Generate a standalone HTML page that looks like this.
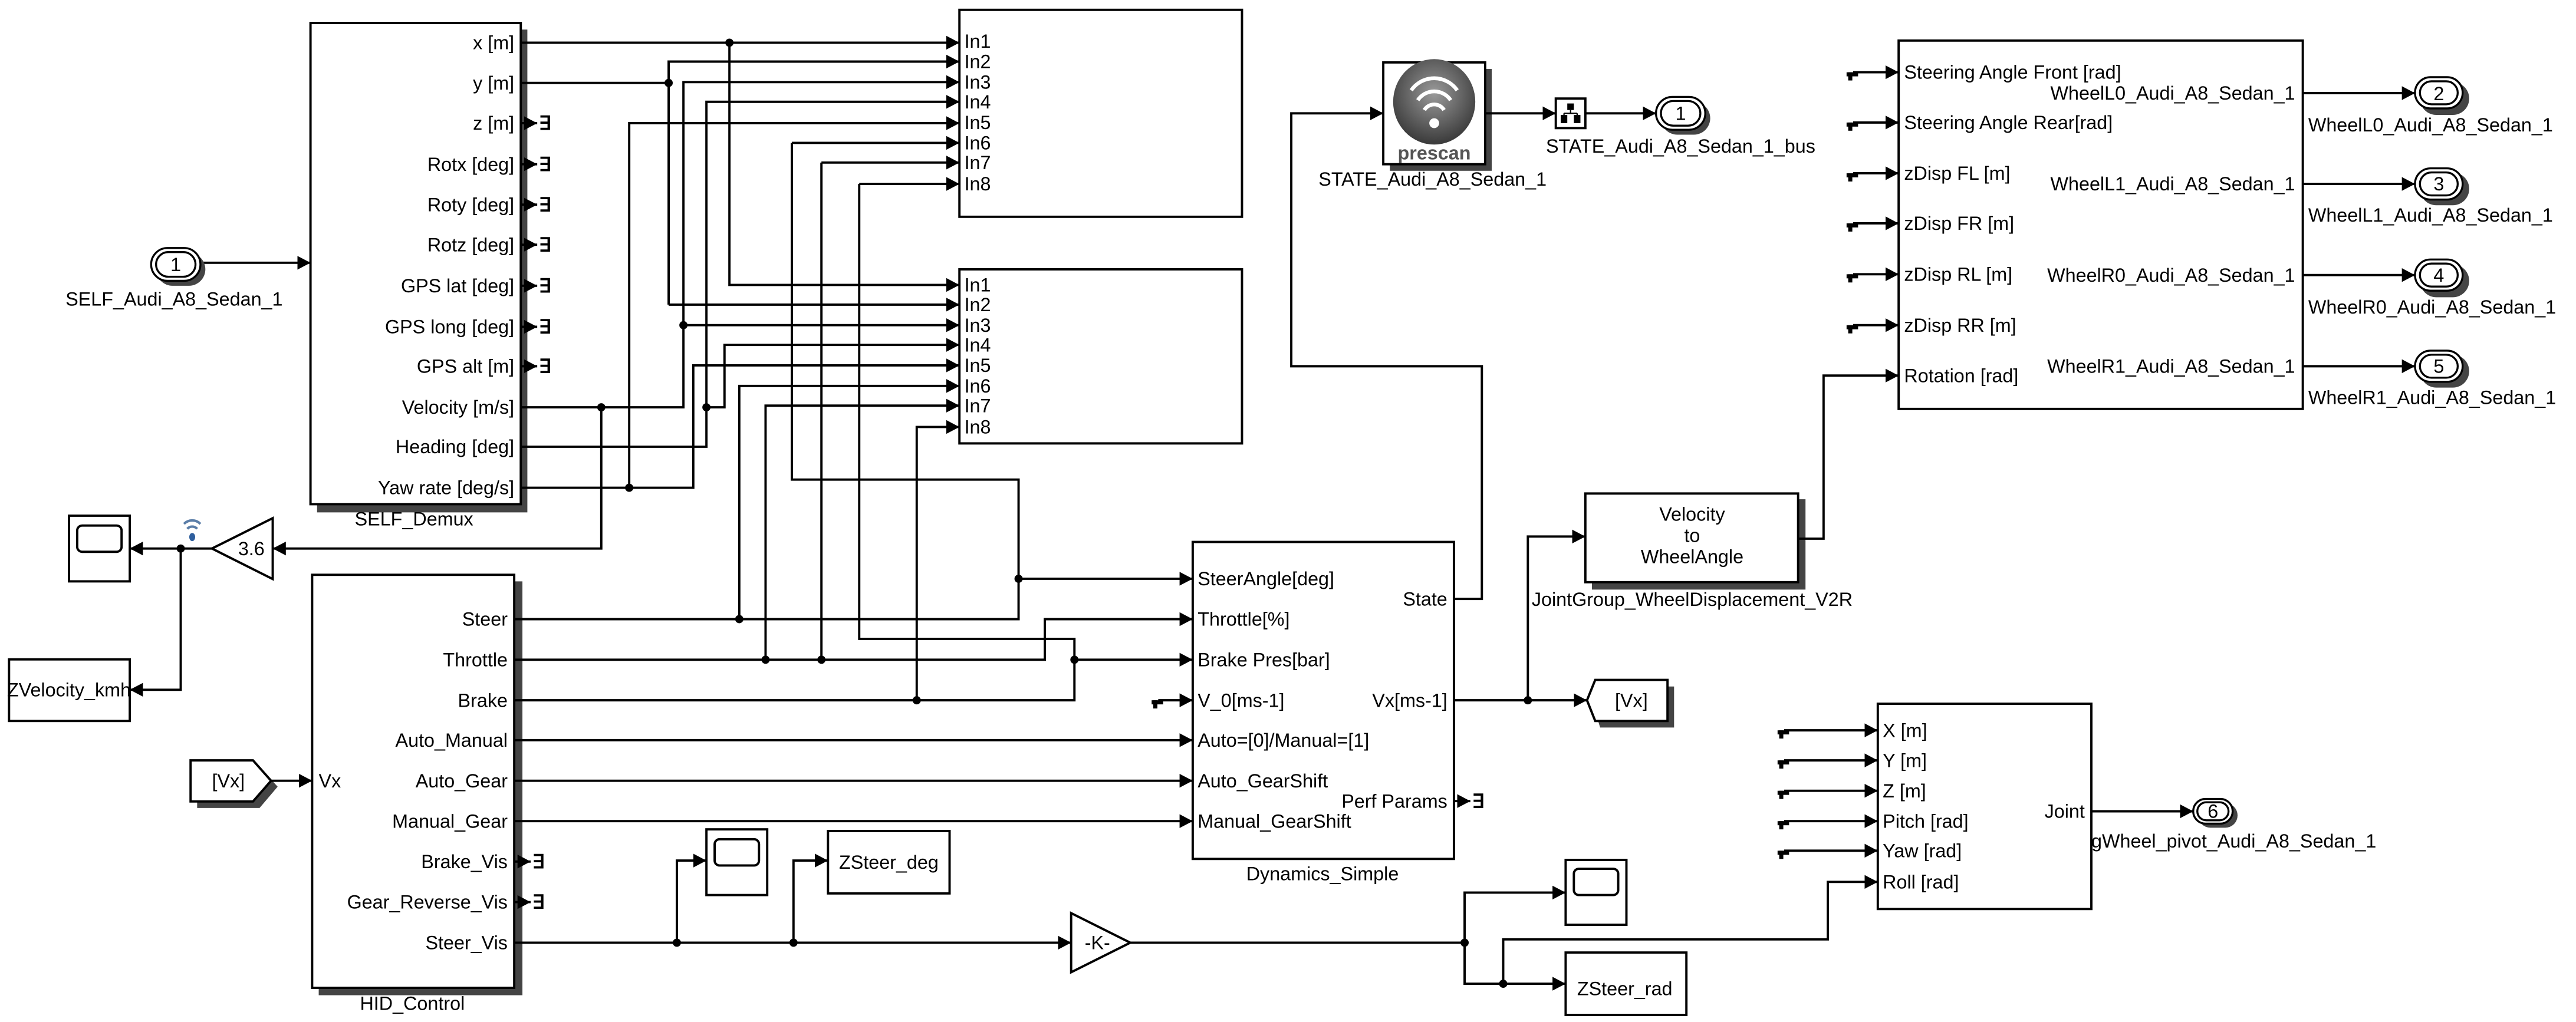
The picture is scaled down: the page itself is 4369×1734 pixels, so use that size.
<!DOCTYPE html>
<html><head><meta charset="utf-8"><style>
html,body{margin:0;padding:0;background:#fff;}
svg{display:block;}
text{font-family:"Liberation Sans",Arial,sans-serif;font-size:11.6px;fill:#000;}
</style></head><body>
<svg width="4369" height="1734" viewBox="0 0 1568 622.3" preserveAspectRatio="none" xmlns="http://www.w3.org/2000/svg">
<defs>
<marker id="a" markerUnits="userSpaceOnUse" markerWidth="9" markerHeight="10" refX="8" refY="5" orient="auto"><path d="M0,0.8 L8,5 L0,9.2 z" fill="#000"/></marker>
<radialGradient id="pg" cx="50%" cy="40%" r="60%"><stop offset="0" stop-color="#9a9a9a"/><stop offset="1" stop-color="#3a3a3a"/></radialGradient>
</defs>
<g fill="none" stroke="#000" stroke-width="1.4">
<rect x="193" y="18" width="128" height="294" fill="#444" stroke="none"/>
<rect x="194" y="354" width="124" height="252" fill="#444" stroke="none"/>
<rect x="846" y="42" width="62" height="62" fill="#444" stroke="none"/>
<rect x="969" y="304" width="130" height="55" fill="#444" stroke="none"/>
<rect x="189" y="14" width="128" height="293" fill="#fff"/>
<rect x="190" y="350" width="123" height="251.5" fill="#fff"/>
<rect x="584" y="6" width="172" height="126" fill="#fff"/>
<rect x="584" y="164" width="172" height="106" fill="#fff"/>
<rect x="726" y="330" width="159" height="193" fill="#fff"/>
<rect x="1155.7" y="24.7" width="246" height="224.3" fill="#fff"/>
<rect x="1143" y="428.5" width="130" height="125" fill="#fff"/>
<rect x="965" y="300.5" width="129.5" height="54" fill="#fff"/>
<rect x="842" y="38" width="62" height="62" fill="#fff"/>
<rect x="947" y="60" width="18" height="18" fill="#fff"/>
<rect x="42" y="314" width="37" height="40" fill="#fff"/>
<rect x="47" y="320" width="27" height="16" rx="3"/>
<rect x="430" y="505" width="37" height="40" fill="#fff"/>
<rect x="435" y="511" width="27" height="16" rx="3"/>
<rect x="953" y="523.6" width="37" height="39.5" fill="#fff"/>
<rect x="958" y="529" width="27" height="16" rx="3"/>
<rect x="5.5" y="401.5" width="73.5" height="37.5" fill="#fff"/>
<rect x="504" y="506" width="74" height="38" fill="#fff"/>
<rect x="953" y="580" width="73.5" height="38" fill="#fff"/>
<path d="M129 334 L166 315.5 L166 352.6 Z" fill="#fff"/>
<path d="M688 574 L652 556 L652 592 Z" fill="#fff"/>
<path d="M120 467 H158 L169 479 L158 492 H120 Z" fill="#444" stroke="none"/>
<path d="M116 463 H154 L165 475.4 L154 488 H116 Z" fill="#fff"/>
<path d="M974 418 H1019 V443 H974 L970 430 Z" fill="#444" stroke="none"/>
<path d="M971 414 H1015 V439 H971 L966 426.4 Z" fill="#fff"/>
<path d="M317 26 H584" marker-end="url(#a)"/>
<path d="M444 26 V173.5 H584" marker-end="url(#a)"/>
<path d="M317 50.5 H407"/>
<path d="M407 185.5 V37.5 H584" marker-end="url(#a)"/>
<path d="M407 185.5 H584" marker-end="url(#a)"/>
<path d="M317 248 H416 V50 H584" marker-end="url(#a)"/>
<path d="M416 198 H584" marker-end="url(#a)"/>
<path d="M366 248 V334 H166" marker-end="url(#a)"/>
<path d="M317 272 H430 V62 H584" marker-end="url(#a)"/>
<path d="M430 248 H441 V210 H584" marker-end="url(#a)"/>
<path d="M317 297 H422 V222.5 H584" marker-end="url(#a)"/>
<path d="M383 297 V75 H584" marker-end="url(#a)"/>
<path d="M482 87 H584" marker-end="url(#a)"/>
<path d="M482 87 V292 H620 V352.4"/>
<path d="M313 377 H620 V352.4 H726" marker-end="url(#a)"/>
<path d="M450 377 V235 H584" marker-end="url(#a)"/>
<path d="M500 99 H584" marker-end="url(#a)"/>
<path d="M500 99 V401.7"/>
<path d="M313 401.7 H636 V377 H726" marker-end="url(#a)"/>
<path d="M466 401.7 V247 H584" marker-end="url(#a)"/>
<path d="M523 112 H584" marker-end="url(#a)"/>
<path d="M523 112 V389 H654 V401.7"/>
<path d="M313 426.4 H654 V401.7 H726" marker-end="url(#a)"/>
<path d="M558 426.4 V260 H584" marker-end="url(#a)"/>
<path d="M313 450.7 H726" marker-end="url(#a)"/>
<path d="M313 475.4 H726" marker-end="url(#a)"/>
<path d="M313 500 H726" marker-end="url(#a)"/>
<path d="M313 574 H652" marker-end="url(#a)"/>
<path d="M412 574 V524 H430" marker-end="url(#a)"/>
<path d="M483 574 V524 H504" marker-end="url(#a)"/>
<path d="M688 574 H891.5"/>
<path d="M891.5 574 V543.5 H953" marker-end="url(#a)"/>
<path d="M891.5 574 V599 H953" marker-end="url(#a)"/>
<path d="M915 599 V572 H1112.6 V537 H1143" marker-end="url(#a)"/>
<path d="M885 426.4 H966" marker-end="url(#a)"/>
<path d="M930 426.4 V326.7 H965" marker-end="url(#a)"/>
<path d="M1094.5 328 H1110 V228.7 H1155.7" marker-end="url(#a)"/>
<path d="M885 364.7 H902 V223 H786 V69 H842" marker-end="url(#a)"/>
<path d="M904 69 H947" marker-end="url(#a)"/>
<path d="M965 69 H1008" marker-end="url(#a)"/>
<path d="M1401.7 56.7 H1470" marker-end="url(#a)"/>
<path d="M1401.7 112 H1470" marker-end="url(#a)"/>
<path d="M1401.7 167.5 H1470" marker-end="url(#a)"/>
<path d="M1401.7 223 H1470" marker-end="url(#a)"/>
<path d="M1273 494 H1335" marker-end="url(#a)"/>
<path d="M122 160 H189" marker-end="url(#a)"/>
<path d="M129 334 H79" marker-end="url(#a)"/>
<path d="M110 334 V420 H79" marker-end="url(#a)"/>
<path d="M165 475.4 H190" marker-end="url(#a)"/>
<path d="M1128 44 H1155.7" marker-end="url(#a)"/>
<path d="M1128 74.6 H1155.7" marker-end="url(#a)"/>
<path d="M1128 105.5 H1155.7" marker-end="url(#a)"/>
<path d="M1128 136 H1155.7" marker-end="url(#a)"/>
<path d="M1128 167 H1155.7" marker-end="url(#a)"/>
<path d="M1128 198 H1155.7" marker-end="url(#a)"/>
<path d="M1086 444.7 H1143" marker-end="url(#a)"/>
<path d="M1086 463 H1143" marker-end="url(#a)"/>
<path d="M1086 481.5 H1143" marker-end="url(#a)"/>
<path d="M1086 500 H1143" marker-end="url(#a)"/>
<path d="M1086 518 H1143" marker-end="url(#a)"/>
<path d="M705 426.4 H726" marker-end="url(#a)"/>
<path d="M317 75 H327" marker-end="url(#a)"/>
<path d="M317 100 H327" marker-end="url(#a)"/>
<path d="M317 124.6 H327" marker-end="url(#a)"/>
<path d="M317 149 H327" marker-end="url(#a)"/>
<path d="M317 174 H327" marker-end="url(#a)"/>
<path d="M317 199 H327" marker-end="url(#a)"/>
<path d="M317 223 H327" marker-end="url(#a)"/>
<path d="M313 524.6 H323" marker-end="url(#a)"/>
<path d="M313 549.3 H323" marker-end="url(#a)"/>
<path d="M885 487.8 H895" marker-end="url(#a)"/>
</g>
<g fill="#000">
<rect x="1124" y="44" width="7" height="2.5"/><rect x="1125" y="44" width="2.5" height="5"/>
<rect x="1124" y="74.6" width="7" height="2.5"/><rect x="1125" y="74.6" width="2.5" height="5"/>
<rect x="1124" y="105.5" width="7" height="2.5"/><rect x="1125" y="105.5" width="2.5" height="5"/>
<rect x="1124" y="136" width="7" height="2.5"/><rect x="1125" y="136" width="2.5" height="5"/>
<rect x="1124" y="167" width="7" height="2.5"/><rect x="1125" y="167" width="2.5" height="5"/>
<rect x="1124" y="198" width="7" height="2.5"/><rect x="1125" y="198" width="2.5" height="5"/>
<rect x="1082" y="444.7" width="7" height="2.5"/><rect x="1083" y="444.7" width="2.5" height="5"/>
<rect x="1082" y="463" width="7" height="2.5"/><rect x="1083" y="463" width="2.5" height="5"/>
<rect x="1082" y="481.5" width="7" height="2.5"/><rect x="1083" y="481.5" width="2.5" height="5"/>
<rect x="1082" y="500" width="7" height="2.5"/><rect x="1083" y="500" width="2.5" height="5"/>
<rect x="1082" y="518" width="7" height="2.5"/><rect x="1083" y="518" width="2.5" height="5"/>
<rect x="701" y="426.4" width="7" height="2.5"/><rect x="702" y="426.4" width="2.5" height="5"/>
<circle cx="444" cy="26" r="2.5"/><circle cx="407" cy="50.5" r="2.5"/><circle cx="416" cy="198" r="2.5"/>
<circle cx="366" cy="248" r="2.5"/><circle cx="430" cy="248" r="2.5"/><circle cx="383" cy="297" r="2.5"/>
<circle cx="620" cy="352.4" r="2.5"/><circle cx="450" cy="377" r="2.5"/><circle cx="500" cy="401.7" r="2.5"/>
<circle cx="466" cy="401.7" r="2.5"/><circle cx="654" cy="401.7" r="2.5"/><circle cx="558" cy="426.4" r="2.5"/>
<circle cx="412" cy="574" r="2.5"/><circle cx="483" cy="574" r="2.5"/><circle cx="891.5" cy="574" r="2.5"/>
<circle cx="915" cy="599" r="2.5"/><circle cx="930" cy="426.4" r="2.5"/><circle cx="110" cy="334" r="2.5"/>
</g>
<g font-size="11" font-weight="bold">
<text x="328" y="79">∃</text><text x="328" y="104">∃</text><text x="328" y="128.6">∃</text><text x="328" y="153">∃</text>
<text x="328" y="178">∃</text><text x="328" y="203">∃</text><text x="328" y="227">∃</text>
<text x="324" y="528.6">∃</text><text x="324" y="553.3">∃</text><text x="896" y="491.8">∃</text>
</g>
<g stroke="#000" stroke-width="1.2">
<rect x="95" y="154" width="30" height="20" rx="10" fill="#444" stroke="none"/>
<rect x="92" y="151" width="30" height="20" rx="10" fill="#fff"/><rect x="95" y="153.5" width="24" height="15" rx="7.5" fill="none"/>
<rect x="1011" y="62" width="30" height="20" rx="10" fill="#444" stroke="none"/>
<rect x="1008" y="59" width="30" height="20" rx="10" fill="#fff"/><rect x="1011" y="61.5" width="24" height="15" rx="7.5" fill="none"/>
<rect x="1473" y="50" width="30" height="20" rx="10" fill="#444" stroke="none"/>
<rect x="1470" y="47" width="29" height="19" rx="9.5" fill="#fff"/><rect x="1473" y="49.5" width="23" height="14" rx="7" fill="none"/>
<rect x="1473" y="105" width="30" height="20" rx="10" fill="#444" stroke="none"/>
<rect x="1470" y="102.5" width="29" height="19" rx="9.5" fill="#fff"/><rect x="1473" y="105" width="23" height="14" rx="7" fill="none"/>
<rect x="1473" y="161" width="30" height="20" rx="10" fill="#444" stroke="none"/>
<rect x="1470" y="158" width="29" height="19" rx="9.5" fill="#fff"/><rect x="1473" y="160.5" width="23" height="14" rx="7" fill="none"/>
<rect x="1473" y="216" width="30" height="20" rx="10" fill="#444" stroke="none"/>
<rect x="1470" y="213.5" width="29" height="19" rx="9.5" fill="#fff"/><rect x="1473" y="216" width="23" height="14" rx="7" fill="none"/>
<rect x="1338" y="489" width="24" height="15" rx="7.5" fill="#444" stroke="none"/>
<rect x="1335" y="486.5" width="24" height="15" rx="7.5" fill="#fff"/><rect x="1337.5" y="488.5" width="19" height="11" rx="5.5" fill="none"/>
</g>
<g text-anchor="middle">
<text x="107" y="165">1</text><text x="1023" y="73">1</text>
<text x="1484.5" y="61">2</text><text x="1484.5" y="116">3</text><text x="1484.5" y="171.5">4</text><text x="1484.5" y="227">5</text>
<text x="1347" y="498" font-size="10">6</text>
</g>
<ellipse cx="873" cy="62" rx="25" ry="26" fill="url(#pg)"/>
<g fill="none" stroke="#fff" stroke-width="2.3">
<path d="M859 55 A17 17 0 0 1 887 55"/><path d="M863 61 A12 12 0 0 1 883 61"/><path d="M867 67 A7 7 0 0 1 879 67"/>
</g>
<circle cx="873" cy="75" r="3" fill="#fff"/>
<text x="873" y="97" text-anchor="middle" font-size="13" font-weight="bold" style="fill:#555">prescan</text>
<g fill="#000"><rect x="950" y="70" width="4" height="5"/><rect x="958" y="70" width="4" height="5"/><rect x="954" y="63" width="4" height="4"/></g>
<path d="M956 67 V69 M952 69 H960 M952 69 V70 M960 69 V70" stroke="#000" stroke-width="0.8" fill="none"/>
<g fill="none" stroke="#5b7ea8" stroke-width="1.5"><path d="M112 319 A7 7 0 0 1 122 319"/><path d="M114 322 A4 4 0 0 1 120 322"/></g>
<ellipse cx="117" cy="327" rx="1.8" ry="2.5" fill="#2f5f9e"/>
<g text-anchor="end">
<text x="313" y="30">x [m]</text><text x="313" y="54.5">y [m]</text><text x="313" y="79">z [m]</text>
<text x="313" y="104">Rotx [deg]</text><text x="313" y="128.6">Roty [deg]</text><text x="313" y="153">Rotz [deg]</text>
<text x="313" y="178">GPS lat [deg]</text><text x="313" y="203">GPS long [deg]</text><text x="313" y="227">GPS alt [m]</text>
<text x="313" y="252">Velocity [m/s]</text><text x="313" y="276">Heading [deg]</text><text x="313" y="301">Yaw rate [deg/s]</text>
<text x="309" y="381">Steer</text><text x="309" y="405.7">Throttle</text><text x="309" y="430.4">Brake</text>
<text x="309" y="454.7">Auto_Manual</text><text x="309" y="479.4">Auto_Gear</text><text x="309" y="504">Manual_Gear</text>
<text x="309" y="528.6">Brake_Vis</text><text x="309" y="553.3">Gear_Reverse_Vis</text><text x="309" y="578">Steer_Vis</text>
<text x="881" y="368.7">State</text><text x="881" y="430.4">Vx[ms-1]</text><text x="881" y="491.8">Perf Params</text>
<text x="1397" y="60.7">WheelL0_Audi_A8_Sedan_1</text><text x="1397" y="116">WheelL1_Audi_A8_Sedan_1</text>
<text x="1397" y="171.5">WheelR0_Audi_A8_Sedan_1</text><text x="1397" y="227">WheelR1_Audi_A8_Sedan_1</text>
<text x="1269" y="498">Joint</text>
</g>
<g font-size="11">
<text x="587" y="29">In1</text><text x="587" y="41.5">In2</text><text x="587" y="54">In3</text><text x="587" y="66">In4</text>
<text x="587" y="78.6">In5</text><text x="587" y="91">In6</text><text x="587" y="103">In7</text><text x="587" y="116">In8</text>
<text x="587" y="177.5">In1</text><text x="587" y="189.5">In2</text><text x="587" y="202">In3</text><text x="587" y="214">In4</text>
<text x="587" y="226.5">In5</text><text x="587" y="239">In6</text><text x="587" y="251">In7</text><text x="587" y="264">In8</text>
</g>
<text x="729" y="356.4">SteerAngle[deg]</text><text x="729" y="381">Throttle[%]</text><text x="729" y="405.7">Brake Pres[bar]</text>
<text x="729" y="430.4">V_0[ms-1]</text><text x="729" y="454.7">Auto=[0]/Manual=[1]</text><text x="729" y="479.4">Auto_GearShift</text>
<text x="729" y="504">Manual_GearShift</text>
<text x="194" y="479.4">Vx</text>
<text x="1159" y="48">Steering Angle Front [rad]</text><text x="1159" y="78.6">Steering Angle Rear[rad]</text>
<text x="1159" y="109.5">zDisp FL [m]</text><text x="1159" y="140">zDisp FR [m]</text><text x="1159" y="171">zDisp RL [m]</text>
<text x="1159" y="202">zDisp RR [m]</text><text x="1159" y="232.7">Rotation [rad]</text>
<text x="1146" y="448.7">X [m]</text><text x="1146" y="467">Y [m]</text><text x="1146" y="485.5">Z [m]</text>
<text x="1146" y="504">Pitch [rad]</text><text x="1146" y="522">Yaw [rad]</text><text x="1146" y="541">Roll [rad]</text>
<text x="1405" y="80">WheelL0_Audi_A8_Sedan_1</text><text x="1405" y="135">WheelL1_Audi_A8_Sedan_1</text>
<text x="1405" y="191">WheelR0_Audi_A8_Sedan_1</text><text x="1405" y="246">WheelR1_Audi_A8_Sedan_1</text>
<text x="1273" y="516">gWheel_pivot_Audi_A8_Sedan_1</text>
<g text-anchor="middle">
<text x="252" y="320">SELF_Demux</text><text x="251" y="615">HID_Control</text><text x="805" y="536">Dynamics_Simple</text>
<text x="106" y="186">SELF_Audi_A8_Sedan_1</text>
<text x="872" y="113">STATE_Audi_A8_Sedan_1</text><text x="1023" y="93">STATE_Audi_A8_Sedan_1_bus</text>
<text x="1030" y="317">Velocity</text><text x="1030" y="330">to</text><text x="1030" y="343">WheelAngle</text>
<text x="1030" y="369">JointGroup_WheelDisplacement_V2R</text>
<text x="153" y="338">3.6</text><text x="668" y="578">-K-</text>
<text x="42" y="424" font-size="10.5">ZVelocity_kmh</text>
<text x="541" y="529" font-size="11">ZSteer_deg</text>
<text x="989" y="606" font-size="19">ZSteer_rad</text>
<text x="139" y="479.4">[Vx]</text><text x="993" y="430.4">[Vx]</text>
</g>
</svg>
</body></html>
